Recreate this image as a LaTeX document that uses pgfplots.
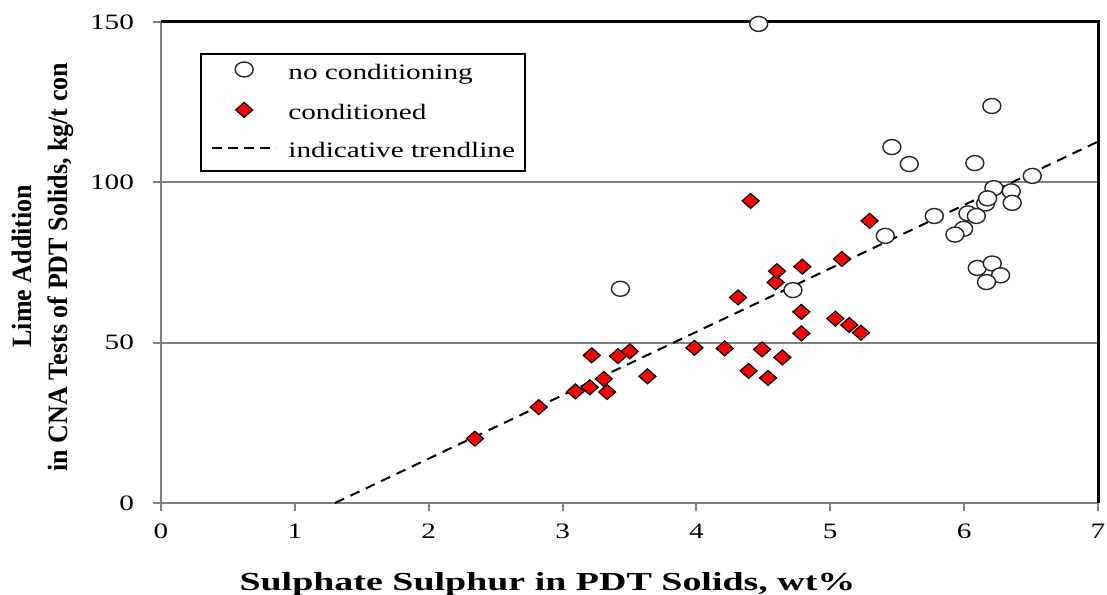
\documentclass[border=0pt]{standalone}
\usepackage{fontspec}
\setmainfont{Liberation Serif}[FakeStretch=1.33]
\newfontfamily\xlabfont{Liberation Serif}[FakeStretch=1.46]
\newfontfamily\ylabfont{Liberation Serif}[FakeStretch=0.93]
\usepackage{pgfplots}
\pgfplotsset{compat=1.18}
\definecolor{axgray}{HTML}{808080}
\pgfplotsset{
  circimg/.style={legend image code/.code={\path (0pt,0pt) (32pt,0pt);
     \draw[mark=*, mark size=3.75pt, mark options={xscale=1.2, draw=black!85, fill=white, line width=0.7pt}] plot coordinates {(16pt,2.5pt)};}},
  diaimg/.style={legend image code/.code={\path (0pt,0pt) (32pt,0pt);
     \draw[mark=square*, mark size=3pt, mark options={yscale=0.88, rotate=45, draw=black, fill=red, line width=0.6pt}] plot coordinates {(16pt,2.5pt)};}},
  lineimg/.style={legend image code/.code={\draw[black, line width=1.2pt, dash pattern=on 5pt off 3pt] (0pt,2.5pt) -- (32pt,2.5pt);}},
}
\begin{document}
\begin{tikzpicture}
\begin{axis}[
  scale only axis, width=468.5pt, height=240.5pt,
  xmin=0, xmax=7, ymin=0, ymax=150,
  xtick={0,1,2,3,4,5,6,7}, ytick={0,50,100,150},
  tick pos=left, tick align=outside, major tick length=4pt,
  tick style={axgray, line width=1pt},
  axis line style={axgray, line width=1.2pt},
  ymajorgrids, grid style={axgray, line width=1pt},
  /pgf/number format/assume math mode=true,
  ticklabel style={font=\fontsize{11}{13}\selectfont},
  yticklabel style={xshift=-6pt},
  xticklabel style={yshift=-3pt},
  clip=false,
  xlabel={\bfseries Sulphate Sulphur in PDT Solids, wt\%},
  xlabel style={at={(axis description cs:0.4125,-0.181)}, anchor=base, font=\xlabfont\fontsize{13}{15}\selectfont},
  legend cell align=left,
  legend style={at={(axis description cs:0.0416,0.9356)}, anchor=north west,
    draw=black, line width=1pt, inner xsep=5pt, inner ysep=4pt,
    row sep=9pt, column sep=5.5pt,
    font=\fontsize{11}{13}\selectfont,
    nodes={inner sep=0pt, text height=7.5pt, text depth=2.5pt}},
]
\draw[black, line width=1.5pt] (rel axis cs:0,1) -- (rel axis cs:1,1) -- (rel axis cs:1,0);
\node[rotate=90, anchor=base, font=\ylabfont\bfseries\fontsize{14}{16}\selectfont]
  at (axis description cs:-0.1377,0.4927) {Lime Addition};
\node[rotate=90, anchor=base, font=\ylabfont\bfseries\fontsize{14}{16}\selectfont]
  at (axis description cs:-0.0993,0.4906) {in CNA Tests of PDT Solids, kg/t con};

\addplot[only marks, mark=*, mark size=3.75pt,
  mark options={xscale=1.2, draw=black!85, fill=white, line width=0.7pt}, circimg]
coordinates {
(4.465,149.4) (6.207,123.8) (5.460,111.0) (5.590,105.7) (6.080,106.0)
(6.509,102.0) (6.222,98.2) (6.352,97.2) (6.160,93.4) (6.175,95.0)
(6.359,93.6) (5.777,89.5) (6.028,90.3) (6.091,89.5) (5.996,85.5)
(5.931,83.7) (5.411,83.3) (6.098,73.3) (6.210,74.7) (6.272,71.0)
(6.167,68.9) (3.432,66.8) (4.721,66.4)
};
\addlegendentry{no conditioning}

\addplot[only marks, mark=square*, mark size=3pt,
  mark options={yscale=0.88, rotate=45, draw=black, fill=red, line width=0.6pt}, diaimg]
coordinates {
(2.345,20.05) (2.822,29.9) (3.096,34.8) (3.203,36.1) (3.308,38.7)
(3.333,34.6) (3.218,46.05) (3.414,45.8) (3.502,47.3) (3.634,39.5)
(3.985,48.4) (4.211,48.2) (4.490,47.9) (4.642,45.4) (4.390,41.2)
(4.535,39.0) (4.784,52.9) (4.784,59.6) (5.038,57.5) (5.142,55.5)
(5.229,53.1) (4.311,64.1) (4.591,68.8) (4.405,94.2) (5.294,88.0)
(4.602,72.3) (4.791,73.7) (5.087,76.1)
};
\addlegendentry{conditioned}

\addplot[black, line width=1pt, dash pattern=on 5pt off 3.5pt, lineimg]
coordinates {(1.30,0) (7,112.7)};
\addlegendentry{indicative trendline}
\end{axis}
\pgfresetboundingbox
\path ([shift={(-80.5pt,-45.5pt)}]current axis.south west) rectangle ([shift={(4.5pt,11pt)}]current axis.north east);
\end{tikzpicture}
\end{document}
